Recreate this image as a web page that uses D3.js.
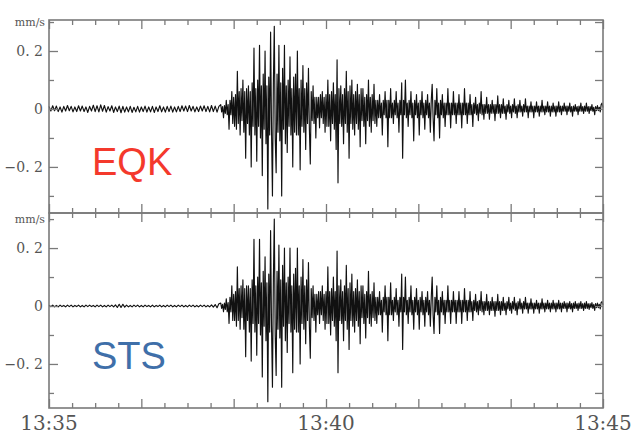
<!DOCTYPE html>
<html>
<head>
<meta charset="utf-8">
<script src="https://cdn.jsdelivr.net/npm/d3@7"></script>
<style>
  body { margin: 0; background: #fff; }
  svg { display: block; }
</style>
</head>
<body>
<svg width="634" height="435"></svg>
<script>
// times are seconds after 13:35:00
// quiet part read every 2 s, the quake itself every 1 s from 13:38:06
const preStep = 2;
const eventStart = 186;
const eventStep = 1;
const xLabelTimes = [0, 300, 600];
const xTickLabels = ['13:35', '13:40', '13:45'];
const yTickValues = [0.2, 0, -0.2];
const yTickLabels = ['0. 2', '0', '\u22120. 2'];
const yMinorValues = [0.3, 0.1, -0.1, -0.3];
const unitLabel = 'mm/s';

// EQK, 13:35:00 - 13:38:04
const eqkPre = [
  0.009,-0.007,0.011,-0.006,0.010,-0.009,0.007,-0.011,0.009,-0.007,
  0.012,-0.006,0.009,-0.010,0.007,-0.009,0.011,-0.007,0.010,-0.009,
  0.007,-0.012,0.009,-0.007,0.013,-0.009,0.011,-0.010,0.014,-0.008,
  0.012,-0.011,0.008,-0.007,0.011,-0.012,0.007,-0.009,0.010,-0.013,
  0.009,-0.011,0.007,-0.010,0.009,-0.012,0.006,-0.010,0.009,-0.011,
  0.007,-0.009,0.010,-0.011,0.007,-0.010,0.009,-0.012,0.007,-0.009,
  0.011,-0.010,0.007,-0.011,0.009,-0.009,0.010,-0.011,0.007,-0.010,
  0.009,-0.009,0.011,-0.007,0.010,-0.009,0.012,-0.007,0.009,-0.010,
  0.007,-0.009,0.010,-0.007,0.011,-0.009,0.009,-0.010,0.012,-0.009,
  0.010,-0.011,0.009
];

// EQK, 13:38:06 - 13:45:00
const eqkEvent = [
  0.015,-0.01,0.008,-0.03,0.012,-0.015,0.03,-0.02,0.015,-0.07,0.03,-0.02,
  0.06,-0.05,0.04,-0.06,0.05,-0.07,0.13,-0.05,0.06,-0.09,0.07,-0.04,
  0.10,-0.08,0.06,-0.17,0.07,-0.05,0.08,-0.09,0.06,-0.20,0.09,-0.06,
  0.21,-0.09,0.07,-0.18,0.10,-0.06,0.22,-0.10,0.08,-0.23,0.12,-0.07,
  0.20,-0.12,0.08,-0.345,0.11,-0.09,0.265,-0.07,-0.30,0.09,0.285,-0.10,
  -0.22,0.12,-0.08,0.22,-0.11,0.09,-0.30,0.14,-0.07,0.22,-0.12,0.08,
  -0.15,0.10,-0.06,0.18,-0.09,0.07,-0.20,0.11,-0.08,0.12,-0.09,0.20,
  -0.09,0.07,-0.21,0.10,-0.06,0.15,-0.08,0.07,-0.14,0.09,-0.05,0.14,
  -0.07,-0.19,0.06,-0.04,0.08,-0.05,0.04,-0.10,0.04,-0.03,0.04,-0.065,
  0.05,-0.03,0.06,-0.05,0.04,-0.08,0.05,-0.06,0.10,-0.06,0.05,-0.11,
  0.06,-0.05,0.09,-0.07,0.05,-0.14,0.17,-0.255,0.07,-0.05,0.08,-0.06,
  0.05,-0.12,0.07,-0.05,0.13,-0.08,0.06,-0.17,0.08,-0.05,0.10,-0.07,
  0.05,-0.09,0.06,-0.05,0.085,-0.07,0.05,-0.13,0.07,-0.04,0.07,-0.06,
  0.04,-0.12,0.05,-0.04,0.10,-0.06,0.04,-0.08,0.05,-0.04,0.085,-0.05,
  0.03,-0.06,0.03,-0.03,0.05,-0.03,0.02,-0.09,0.03,-0.02,0.06,-0.03,
  0.03,-0.13,0.03,-0.03,0.07,-0.03,0.02,-0.05,0.03,-0.02,0.06,-0.03,
  0.02,-0.08,0.03,-0.02,0.09,-0.17,0.03,-0.02,0.10,-0.03,0.02,-0.06,
  0.03,-0.02,0.06,-0.03,0.02,-0.11,0.03,-0.02,0.05,-0.03,0.02,-0.09,
  0.03,-0.02,0.06,-0.03,0.02,-0.07,0.03,-0.02,0.05,-0.03,0.02,-0.08,
  0.03,0.085,-0.03,-0.11,0.03,-0.02,0.07,-0.03,0.02,-0.10,0.03,-0.02,
  0.05,-0.03,0.02,-0.06,0.02,-0.02,0.07,-0.02,0.02,-0.065,0.02,-0.02,
  0.06,-0.02,0.02,-0.05,0.02,-0.02,0.05,-0.02,0.02,-0.065,0.02,-0.02,
  0.07,-0.02,0.02,-0.05,0.02,-0.02,0.05,-0.02,0.015,-0.06,0.02,-0.015,
  0.04,-0.02,0.015,-0.04,0.02,-0.015,0.06,-0.02,0.015,-0.035,0.015,-0.015,
  0.04,-0.015,0.015,-0.035,0.015,-0.015,0.03,-0.015,0.015,-0.04,0.015,-0.015,
  0.045,-0.015,0.015,-0.03,0.015,-0.015,0.035,-0.015,0.01,-0.035,0.015,-0.01,
  0.03,-0.015,0.01,-0.03,0.015,-0.01,0.035,-0.015,0.01,-0.03,0.015,-0.01,
  0.03,-0.01,0.01,-0.025,0.015,-0.01,0.035,-0.01,0.01,-0.03,0.01,-0.01,
  0.025,-0.01,0.01,-0.03,0.01,-0.01,0.025,-0.01,0.01,-0.025,0.01,-0.01,
  0.03,-0.01,0.01,-0.02,0.01,-0.01,0.025,-0.01,0.01,-0.025,0.01,-0.01,
  0.02,-0.01,0.01,-0.025,0.01,-0.01,0.025,-0.01,0.01,-0.02,0.01,-0.008,
  0.02,-0.008,0.01,-0.02,0.01,-0.008,0.02,-0.01,0.008,-0.025,0.01,-0.008,
  0.015,-0.008,0.008,-0.02,0.01,-0.008,0.02,-0.008,0.008,-0.015,0.01,-0.008,
  0.02,-0.008,0.008,-0.015,0.008,-0.006,0.015,-0.008,0.006,-0.02,0.008,-0.006,
  0.012,-0.006,0.006,-0.01,0.015,0.02,0.005
];

// STS, 13:35:00 - 13:38:04
const stsPre = [
  0.003,-0.002,0.003,-0.003,0.002,-0.003,0.003,-0.002,0.002,-0.003,
  0.003,-0.002,0.003,-0.003,0.002,-0.002,0.003,-0.003,0.002,-0.003,
  0.003,-0.002,0.003,-0.002,0.002,-0.003,0.003,-0.002,0.003,-0.003,
  0.002,-0.003,0.003,-0.002,0.003,-0.003,0.004,-0.005,0.006,-0.005,
  0.006,-0.004,0.003,-0.003,0.002,-0.003,0.003,-0.002,0.003,-0.003,
  0.002,-0.003,0.003,-0.002,0.002,-0.003,0.003,-0.003,0.002,-0.002,
  0.003,-0.003,0.002,-0.003,0.003,-0.002,0.003,-0.003,0.002,-0.003,
  0.003,-0.002,0.003,-0.003,0.002,-0.003,0.003,-0.002,0.003,-0.003,
  0.002,-0.003,0.003,-0.002,0.003,-0.003,0.002,-0.003,0.004,-0.004,
  0.005,-0.006,0.008
];

// STS, 13:38:06 - 13:45:00
const stsEvent = [
  0.01,-0.008,0.006,-0.02,0.01,-0.012,0.025,-0.02,0.012,-0.06,0.03,-0.02,
  0.07,-0.05,0.04,-0.05,0.05,-0.07,0.135,-0.05,0.06,-0.08,0.07,-0.04,
  0.09,-0.08,0.06,-0.175,0.07,-0.05,0.07,-0.09,0.06,-0.19,0.09,-0.06,
  0.23,-0.09,0.07,-0.17,0.10,-0.06,0.23,-0.10,0.08,-0.245,0.12,-0.07,
  0.17,-0.12,0.08,-0.33,0.11,-0.09,0.26,-0.07,-0.28,0.09,0.30,-0.10,
  -0.24,0.12,-0.08,0.21,-0.11,0.09,-0.28,0.14,-0.07,0.20,-0.12,0.08,
  -0.16,0.10,-0.06,0.20,-0.09,0.07,-0.23,0.11,-0.08,0.13,-0.09,0.20,
  -0.09,0.07,-0.20,0.10,-0.06,0.16,-0.08,0.07,-0.13,0.09,-0.05,0.15,
  -0.07,-0.18,0.06,-0.04,0.07,-0.05,0.04,-0.09,0.04,-0.03,0.05,-0.06,
  0.05,-0.03,0.07,-0.05,0.04,-0.08,0.05,-0.06,0.135,-0.06,0.05,-0.10,
  0.06,-0.05,0.10,-0.07,0.05,-0.12,0.19,-0.23,0.07,-0.05,0.09,-0.06,
  0.05,-0.12,0.07,-0.05,0.14,-0.08,0.06,-0.15,0.08,-0.05,0.11,-0.07,
  0.05,-0.09,0.06,-0.05,0.09,-0.07,0.05,-0.13,0.07,-0.04,0.07,-0.06,
  0.04,-0.11,0.05,-0.04,0.12,-0.06,0.04,-0.07,0.05,-0.04,0.08,-0.05,
  0.03,-0.06,0.03,-0.03,0.05,-0.03,0.02,-0.09,0.03,-0.02,0.07,-0.03,
  0.03,-0.12,0.03,-0.03,0.08,-0.03,0.02,-0.05,0.03,-0.02,0.06,-0.03,
  0.02,-0.07,0.03,-0.02,0.11,-0.15,0.03,-0.02,0.10,-0.03,0.02,-0.06,
  0.03,-0.02,0.07,-0.03,0.02,-0.08,0.03,-0.02,0.06,-0.03,0.02,-0.08,
  0.03,-0.02,0.05,-0.03,0.02,-0.07,0.03,-0.02,0.05,-0.03,0.02,-0.07,
  0.03,0.10,-0.03,-0.095,0.03,-0.02,0.07,-0.03,0.02,-0.095,0.03,-0.02,
  0.05,-0.03,0.02,-0.06,0.02,-0.02,0.07,-0.02,0.02,-0.06,0.02,-0.02,
  0.05,-0.02,0.02,-0.06,0.02,-0.02,0.05,-0.02,0.02,-0.06,0.02,-0.02,
  0.06,-0.02,0.02,-0.05,0.02,-0.02,0.05,-0.02,0.015,-0.05,0.02,-0.015,
  0.04,-0.02,0.015,-0.03,0.02,-0.015,0.05,-0.02,0.015,-0.03,0.015,-0.015,
  0.04,-0.015,0.015,-0.03,0.015,-0.015,0.03,-0.015,0.015,-0.035,0.015,-0.015,
  0.04,-0.015,0.015,-0.03,0.015,-0.015,0.03,-0.015,0.01,-0.03,0.015,-0.01,
  0.03,-0.015,0.01,-0.025,0.015,-0.01,0.03,-0.015,0.01,-0.03,0.015,-0.01,
  0.025,-0.01,0.01,-0.025,0.015,-0.01,0.03,-0.01,0.01,-0.025,0.01,-0.01,
  0.025,-0.01,0.01,-0.025,0.01,-0.01,0.02,-0.01,0.01,-0.025,0.01,-0.01,
  0.025,-0.01,0.01,-0.02,0.01,-0.01,0.02,-0.01,0.01,-0.02,0.01,-0.01,
  0.02,-0.01,0.01,-0.02,0.01,-0.01,0.02,-0.01,0.01,-0.02,0.01,-0.008,
  0.015,-0.008,0.01,-0.02,0.01,-0.008,0.015,-0.01,0.008,-0.02,0.01,-0.008,
  0.015,-0.008,0.008,-0.015,0.01,-0.008,0.015,-0.008,0.008,-0.015,0.01,-0.008,
  0.015,-0.008,0.008,-0.012,0.008,-0.006,0.012,-0.008,0.006,-0.015,0.008,-0.006,
  0.01,-0.006,0.006,-0.01,0.012,0.015,0.004
];

// pair every reading with its time
function toPoints(pre, event) {
  return pre.map((v, i) => [i * preStep, v])
    .concat(event.map((v, i) => [eventStart + i * eventStep, v]));
}

const panels = [
  { name: 'EQK', color: '#f4392c', points: toPoints(eqkPre, eqkEvent),
    top: 20, bottom: 213, domain: [-0.359, 0.307], labelY: 175 },
  { name: 'STS', color: '#3f6fa9', points: toPoints(stsPre, stsEvent),
    top: 213, bottom: 408, domain: [-0.352, 0.321], labelY: 369 }
];

const left = 49, right = 603;
const frameColor = '#7a7a7a';
const textColor = '#555';

const svg = d3.select('svg');

const x = d3.scaleLinear().domain([0, 600]).range([left, right]);
const majorTimes = d3.range(0, 601, 100);
const minorTimes = d3.range(0, 601, 25).filter(t => t % 100 !== 0);

panels.forEach(p => {
  const y = d3.scaleLinear().domain(p.domain).range([p.bottom, p.top]);
  const g = svg.append('g');

  // trace
  const line = d3.line()
    .x(d => x(d[0]))
    .y(d => y(d[1]));
  g.append('path')
    .datum(p.points)
    .attr('d', line)
    .attr('fill', 'none')
    .attr('stroke', '#111')
    .attr('stroke-width', 1.15)
    .attr('stroke-linejoin', 'round');

  // ticks on all four sides, pointing inwards
  const addAxis = (axis, transform) => {
    const a = g.append('g').attr('transform', transform).call(axis);
    a.select('.domain').remove();
    a.selectAll('line').attr('stroke', frameColor).attr('stroke-width', 1.3);
    return a;
  };
  addAxis(d3.axisBottom(x).tickValues(majorTimes).tickSize(-9).tickFormat(''), `translate(0,${p.bottom})`);
  addAxis(d3.axisBottom(x).tickValues(minorTimes).tickSize(-5).tickFormat(''), `translate(0,${p.bottom})`);
  addAxis(d3.axisTop(x).tickValues(majorTimes).tickSize(-9).tickFormat(''), `translate(0,${p.top})`);
  addAxis(d3.axisTop(x).tickValues(minorTimes).tickSize(-5).tickFormat(''), `translate(0,${p.top})`);
  addAxis(d3.axisRight(y).tickValues(yTickValues.concat(yMinorValues)).tickSize(-8).tickFormat(''), `translate(${right},0)`);

  const yMajor = addAxis(d3.axisLeft(y).tickValues(yTickValues).tickSize(-9).tickPadding(6)
    .tickFormat((d, i) => yTickLabels[i]), `translate(${left},0)`);
  yMajor.selectAll('text')
    .attr('fill', textColor)
    .style('font-family', 'DejaVu Serif')
    .style('font-size', '14px');

  const yMinor = addAxis(d3.axisLeft(y).tickValues(yMinorValues).tickSize(-5).tickPadding(4)
    .tickFormat(d => d === 0.3 ? unitLabel : ''), `translate(${left},0)`);
  yMinor.selectAll('text')
    .attr('fill', textColor)
    .style('font-family', 'DejaVu Serif')
    .style('font-size', '11px');

  // frame
  g.append('rect')
    .attr('x', left).attr('y', p.top)
    .attr('width', right - left).attr('height', p.bottom - p.top)
    .attr('fill', 'none')
    .attr('stroke', frameColor)
    .attr('stroke-width', 1.6);

  // instrument name
  g.append('text')
    .attr('x', 92).attr('y', p.labelY)
    .attr('fill', p.color)
    .style('font-family', 'Liberation Sans, Arial, sans-serif')
    .style('font-size', '38px')
    .text(p.name);
});

// time labels under the lower panel
svg.append('g')
  .selectAll('text')
  .data(xLabelTimes)
  .join('text')
  .attr('x', d => x(d))
  .attr('y', 430)
  .attr('text-anchor', 'middle')
  .attr('fill', textColor)
  .style('font-family', 'DejaVu Serif')
  .style('font-size', '20px')
  .text((d, i) => xTickLabels[i]);
</script>
</body>
</html>
